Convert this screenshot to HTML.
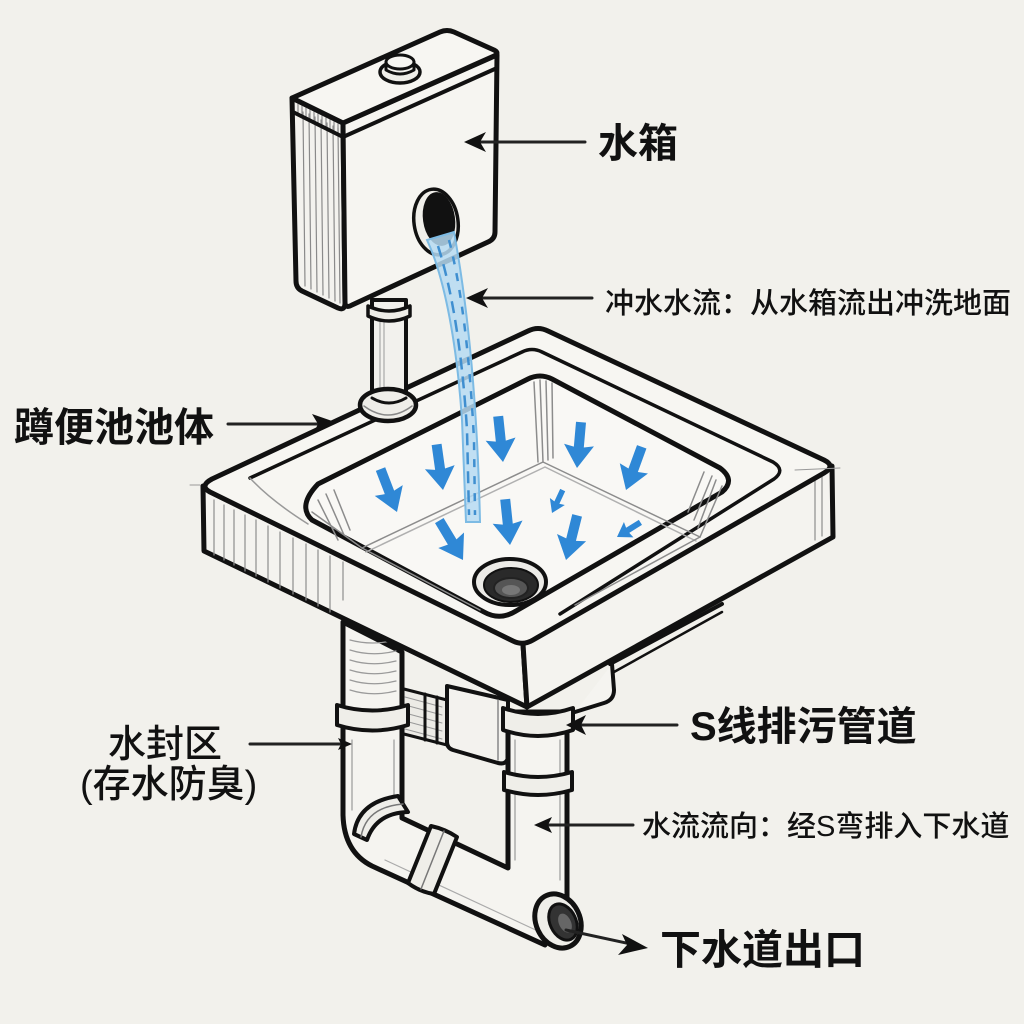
<!DOCTYPE html>
<html><head><meta charset="utf-8"><style>
html,body{margin:0;padding:0;background:#f2f1ec;}
svg{display:block}
text{font-family:"Liberation Sans","Noto Sans CJK SC",sans-serif;fill:#111;}
</style></head><body>
<svg width="1024" height="1024" viewBox="0 0 1024 1024" xmlns="http://www.w3.org/2000/svg">
<defs>
<path id="ba" d="M-5,-46 L5,-46 L5,-21 L15,-23 L0,0 L-15,-23 L-5,-21 Z"/>
</defs>
<rect width="1024" height="1024" fill="#f2f1ec"/>

<!-- ============ PIPES UNDER BASIN ============ -->
<g stroke="#111" stroke-linejoin="round" stroke-linecap="round">
  <!-- box / bar between pipes -->
  <path d="M400,688 L447,700 L447,745 L400,733 Z" fill="#ecebe6" stroke-width="3"/>
  <g stroke="#999" stroke-width="1">
    <path d="M405,697 L442,707 M405,705 L442,715 M405,713 L442,723 M405,721 L442,731 M405,729 L442,739"/>
  </g>
  <path d="M425,694 L425,740 M437,697 L437,743" stroke-width="3" fill="none"/>
  <path d="M447,686 L508,700 L508,758 Q506,765 498,763 L453,750 Q447,748 447,742 Z" fill="#f3f2ee" stroke-width="4"/>
  <path d="M498,700 L498,760" stroke="#888" stroke-width="1.5"/>

  <!-- main S-trap pipe body -->
  <path d="M343,622 L343,815 Q344,852 372,866 L545,945 L567,897 L567,712 L508,712 L508,868 L402,818 L402,652 Z" fill="#f5f4f0" stroke-width="5"/>
  <!-- shading on left pipe top -->
  <g stroke="#9a9a9a" stroke-width="1.2" fill="none">
    <path d="M350,640 Q372,646 396,640 M350,650 Q372,657 396,651 M350,660 Q372,667 396,661 M350,670 Q372,677 396,671 M350,680 Q372,687 396,681 M350,690 Q372,697 396,691"/>
    <path d="M352,740 L352,810 M394,740 L394,805 M515,740 L515,860 M560,740 L560,880"/>
    <path d="M385,860 L540,932" stroke="#aaa"/>
  </g>
  <!-- left pipe collar -->
  <path d="M337,705 Q372,716 408,705 L408,725 Q372,736 337,725 Z" fill="#efeee9" stroke-width="4"/>
  <!-- right pipe top collar -->
  <path d="M503,708 Q538,720 573,708 L573,730 Q538,742 503,730 Z" fill="#efeee9" stroke-width="4"/>
  <!-- right pipe mid collar -->
  <path d="M504,772 Q538,782 572,772 L572,790 Q538,800 504,790 Z" fill="#efeee9" stroke-width="4"/>
  <!-- elbow ring -->
  <path d="M354,834 Q358,802 398,796 L408,812 Q376,813 367,840 Z" fill="#efeee9" stroke-width="4"/>
  <path d="M361,837 Q366,807 403,804" fill="none" stroke="#777" stroke-width="1.5"/>
  <!-- diagonal coupling band -->
  <path d="M431,826 Q445,829 457,837 L434,894 Q420,892 408,883 Z" fill="#efeee9" stroke-width="4"/>
  <path d="M444,831 L421,889" fill="none" stroke="#777" stroke-width="1.5"/>
  <!-- outlet -->
  <ellipse cx="558" cy="921" rx="22" ry="28" transform="rotate(-25 558 921)" fill="#efeee9" stroke-width="5"/>
  <ellipse cx="563" cy="922" rx="13" ry="19" transform="rotate(-25 563 922)" fill="#333" stroke-width="3"/>
  <ellipse cx="565" cy="923" rx="6" ry="10" transform="rotate(-25 565 923)" fill="#666" stroke="none"/>
</g>

<!-- ============ BASIN ============ -->
<g stroke="#111" stroke-linejoin="round" stroke-linecap="round">
  <!-- right under lip -->
  <path d="M610,664 L722,604" stroke-width="4" fill="none"/>
  <path d="M614,672 L722,612" stroke-width="2.5" fill="none"/>
  <path d="M612,664 L614,690 Q614,700 604,703 L575,712" stroke-width="4" fill="#f5f4f0"/>
  <!-- left side face -->
  <path d="M203,486 L523,644 L527,707 L204,551 Z" fill="#f4f3ef" stroke-width="5"/>
  <!-- right side face -->
  <path d="M523,644 L832,466 L833,537 L527,707 Z" fill="#f4f3ef" stroke-width="5"/>
  <g stroke="#8e8e8e" stroke-width="1.2">
    <path d="M214,500 L214,555 M224,505 L224,560 M234,510 L234,565 M245,515 L245,571 M256,520 L256,576 M268,526 L268,582 M280,532 L280,588 M293,538 L293,594 M306,544 L306,600 M318,550 L318,606 M330,556 L330,612 M343,562 L343,600"/>
    <path d="M815,478 L815,540 M822,474 L822,536"/>
  </g>
  <!-- top face -->
  <path d="M212,479 L528,331 Q538,326 548,331 L824,460 Q836,466 824,473 L533,640 Q523,646 513,641 L210,492 Q199,486 212,479 Z" fill="#f7f6f2" stroke-width="5"/>
  <!-- second line (rim inner) -->
  <path d="M250,478 L522,352 Q532,347 542,352 L773,462 Q786,470 774,479 L560,614" fill="none" stroke-width="3.5"/>
  <path d="M250,478 Q270,500 308,524" fill="none" stroke="#999" stroke-width="1.5"/>
  <path d="M795,470 L840,468 M200,485 L190,485" stroke="#999" stroke-width="1"/>
  <!-- bowl opening -->
  <path d="M318,484 L528,379 Q540,373 552,379 L720,468 Q736,480 722,492 L516,611 Q500,621 484,612 L312,520 Q297,506 318,484 Z" fill="#f9f8f5" stroke-width="5"/>
  <!-- bowl floor & walls -->
  <g fill="none" stroke="#8c8c8c" stroke-width="1.5">
    <path d="M362,548 L543,462 L700,537"/>
    <path d="M366,552 L545,467 L696,541" stroke="#b0b0b0"/>
    <path d="M362,548 L480,610 M700,537 L575,605"/>
    <path d="M540,380 L543,462 M546,381 L548,460 M552,383 L553,458 M534,382 L538,462"/>
    <path d="M312,512 L362,548 M318,500 L338,540 M326,494 L344,535 M334,490 L350,530"/>
    <path d="M722,486 L700,537 M712,476 L694,520 M704,472 L688,512 M716,480 L698,528"/>
  </g>
  <!-- drain -->
  <ellipse cx="510" cy="582" rx="36" ry="23" fill="#ecebe7" stroke-width="4"/>
  <ellipse cx="511" cy="585" rx="27" ry="17" fill="#2a2a2a" stroke-width="2"/>
  <ellipse cx="511" cy="588" rx="17" ry="10" fill="#555" stroke="#222" stroke-width="2"/>
  <ellipse cx="511" cy="590" rx="9" ry="5" fill="#777" stroke="none"/>
</g>

<!-- ============ TANK ============ -->
<g stroke="#111" stroke-linejoin="round" stroke-linecap="round">
  <!-- pipe from tank -->
  <rect x="372" y="300" width="34" height="104" fill="#f2f1ed" stroke-width="4"/>
  <path d="M380,310 L380,398 M384,310 L384,398" stroke="#aaa" stroke-width="1.2"/>
  <path d="M368,306 Q389,316 410,306 L410,316 Q389,326 368,316 Z" fill="#eeede8" stroke-width="3.5"/>
  <!-- flange on rim -->
  <ellipse cx="388" cy="405" rx="28" ry="16" fill="#efeee9" stroke-width="4.5"/>
  <path d="M364,406 Q388,424 412,406" fill="none" stroke="#888" stroke-width="1.5"/>
  <path d="M372,398 Q389,408 406,398" fill="none" stroke-width="3"/>

  <!-- left side -->
  <path d="M292,98 L343,123 L345,303 Q345,311 338,308 L302,291 Q296,288 296,281 Z" fill="#f3f2ee" stroke-width="5"/>
  <g stroke="#8a8a8a" stroke-width="1.2">
    <path d="M303,112 L305,286 M309,114 L311,289 M315,117 L317,292 M321,120 L323,295 M327,123 L329,298 M333,126 L335,301 M338,128 L340,303"/>
    <path d="M298,103 L298,113 M302,105 L302,115 M306,107 L306,117 M310,109 L310,119 M314,111 L314,121 M318,113 L318,123 M322,115 L322,125 M326,117 L326,127 M330,119 L330,129 M334,121 L334,131 M338,123 L338,133"/>
  </g>
  <!-- front face -->
  <path d="M343,123 L497,55 L495,232 Q495,239 488,242 L352,305 Q345,309 345,302 Z" fill="#f6f5f1" stroke-width="5"/>
  <!-- top face -->
  <path d="M292,98 L440,32 Q447,29 454,32 L494,50 Q500,53 494,56 L343,123 Z" fill="#f7f6f2" stroke-width="5"/>
  <!-- lid band -->
  <path d="M293,112 L343,137 L497,68" fill="none" stroke-width="4"/>
  <!-- knob -->
  <ellipse cx="400" cy="72" rx="20" ry="11" fill="#efeee9" stroke-width="3.5"/>
  <path d="M386,70 L386,62 Q400,54 414,62 L414,70 Q400,78 386,70 Z" fill="#f5f4f0" stroke-width="3"/>
  <ellipse cx="400" cy="62" rx="14" ry="7" fill="#f7f6f2" stroke-width="3"/>
  <!-- outlet hole -->
  <ellipse cx="436" cy="222" rx="22" ry="33" transform="rotate(-8 436 222)" fill="#f0efea" stroke-width="3.5"/>
  <ellipse cx="439" cy="219" rx="15" ry="26" transform="rotate(-8 439 219)" fill="#111" stroke-width="2"/>
</g>

<!-- ============ WATER STREAM ============ -->
<path d="M427,240 C442,272 456,332 462,420 L466,522 L480,522 C478,432 472,330 454,232 Z" fill="#b6dbf2" fill-opacity="0.85" stroke="#7dbbe4" stroke-width="2"/>
<path d="M438,246 C452,290 462,350 467,430 L469,515" fill="none" stroke="#3f8fd0" stroke-width="2.5" stroke-dasharray="12 7"/>
<path d="M449,240 C462,290 470,360 474,440 L475,515" fill="none" stroke="#3f8fd0" stroke-width="2.5" stroke-dasharray="8 9"/>

<!-- ============ BLUE ARROWS ============ -->
<g fill="#2f88d6">
  <use href="#ba" transform="translate(397,512) rotate(-21)"/>
  <use href="#ba" transform="translate(443,490) rotate(-8)"/>
  <use href="#ba" transform="translate(503,462) rotate(-6)"/>
  <use href="#ba" transform="translate(577,468) rotate(5)"/>
  <use href="#ba" transform="translate(626,490) rotate(20)"/>
  <use href="#ba" transform="translate(463,560) rotate(-31)"/>
  <use href="#ba" transform="translate(510,545) rotate(-6)"/>
  <use href="#ba" transform="translate(566,560) rotate(14)"/>
  <use href="#ba" transform="translate(552,513) rotate(25) scale(0.55)"/>
  <use href="#ba" transform="translate(617,537) rotate(58) scale(0.6)"/>
</g>

<!-- ============ LEADERS ============ -->
<g stroke="#222" stroke-width="3" fill="none" stroke-linecap="round">
  <path d="M585,142 L468,142"/>
  <path d="M592,298 L470,298"/>
  <path d="M228,424 L328,424"/>
  <path d="M250,744 L346,744"/>
  <path d="M677,725 L570,725"/>
  <path d="M633,825 L538,825"/>
  <path d="M566,930 L640,946"/>
</g>
<g fill="#111">
  <path d="M464,142 L486,132 L480,142 L486,152 Z"/>
  <path d="M466,298 L488,288 L482,298 L488,308 Z"/>
  <path d="M335,422 L312,414 L318,424 L313,434 Z"/>
  <path d="M352,744 L338,738 L341,744 L338,750 Z"/>
  <path d="M566,725 L586,715 L581,725 L586,735 Z"/>
  <path d="M534,825 L552,817 L548,825 L552,833 Z"/>
  <path d="M648,948 L622,934 L627,945 L618,955 Z"/>
</g>

<!-- ============ LABELS ============ -->
<text x="598" y="157" font-size="40" font-weight="700">水箱</text>
<text x="605" y="313" font-size="29" font-weight="500">冲水水流：从水箱流出冲洗地面</text>
<text x="14" y="441" font-size="40" font-weight="700">蹲便池池体</text>
<text x="108" y="757" font-size="38" font-weight="500">水封区</text>
<text x="80" y="797" font-size="38" font-weight="500">(存水防臭)</text>
<text x="690" y="740" font-size="40" font-weight="700">S线排污管道</text>
<text x="642" y="836" font-size="29" font-weight="500">水流流向：经S弯排入下水道</text>
<text x="660" y="964" font-size="41" font-weight="700">下水道出口</text>
</svg>
</body></html>
